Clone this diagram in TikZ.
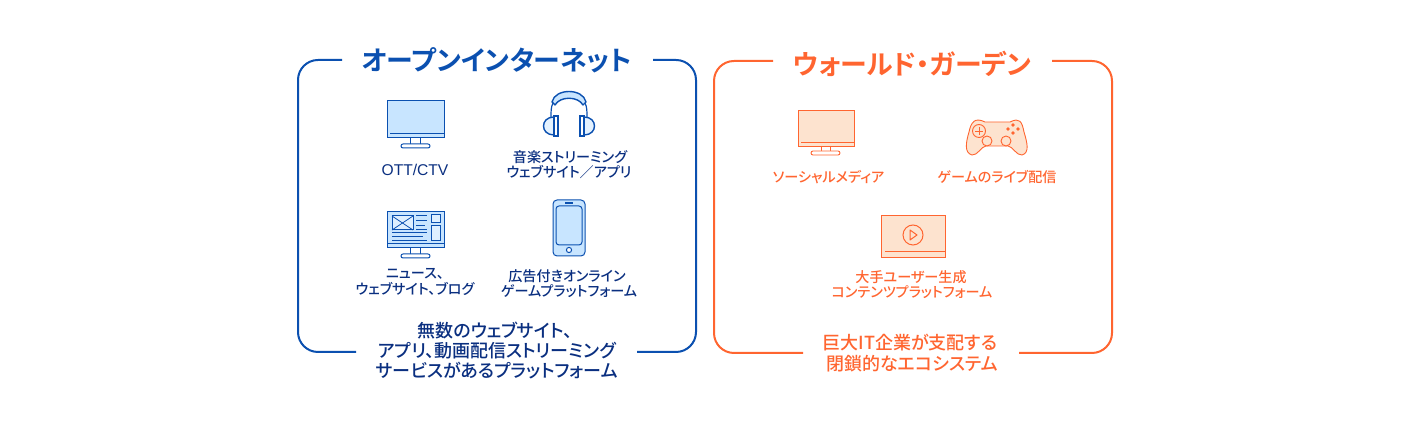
\documentclass[tikz,border=0pt]{standalone}
\usepackage{fontspec}
\usepackage{xcolor}
\setmainfont{Liberation Sans}
\newfontfamily\cjk[RawFeature={+palt},UprightFont={* Medium},BoldFont={* Bold}]{Noto Sans CJK JP}
\definecolor{bluel}{HTML}{0B50B0}
\definecolor{bluet}{HTML}{0A2F80}
\definecolor{bluef}{HTML}{C8E5FF}
\definecolor{orgl}{HTML}{FF6530}
\definecolor{orgf}{HTML}{FDE3CF}
\tikzset{
    bluelab/.style={text=bluet,font=\cjk\fontsize{7.05}{7.05}\selectfont,inner sep=0pt},
    bluecap/.style={text=bluet,font=\cjk\fontsize{9}{9}\selectfont,inner sep=0pt},
    orglab/.style={text=orgl,font=\cjk\fontsize{7.05}{7.05}\selectfont,inner sep=0pt},
    orgcap/.style={text=orgl,font=\cjk\fontsize{9}{9}\selectfont,inner sep=0pt},
    blueicon/.style={draw=bluel,fill=bluef,line width=0.5pt},
    orgicon/.style={draw=orgl,fill=orgf,line width=0.45pt},
}
\begin{document}
\begin{tikzpicture}[x=0.5pt,y=-0.5pt]
        \useasboundingbox (0,0) rectangle (1410,421);
        \draw [bluel,line width=1pt,rounded corners=10pt] (342,60)--(298,60)--(298,352)--(356,352);
        \draw [bluel,line width=1pt,rounded corners=10pt] (637,352)--(696,352)--(696,60)--(653,60);
        \node [text=bluel,inner sep=0pt,font=\cjk\bfseries\fontsize{13.45}{13.45}\selectfont] (titleopen) at(497,60) {オープンインターネット};
        \draw [orgl,line width=1pt,rounded corners=10pt] (773,61)--(714,61)--(714,353)--(803,353);
        \draw [orgl,line width=1pt,rounded corners=10pt] (1019,353)--(1112,353)--(1112,61)--(1052,61);
        \node [text=orgl,inner sep=0pt,font=\cjk\bfseries\fontsize{13.45}{13.45}\selectfont] (titlewall) at(912,64) {ウォールド・ガーデン};

        \draw [blueicon] (387,101) rectangle (444,138);
        \draw [bluel,line width=0.5pt] (390,134)--(444,134);
        \draw [bluel,line width=0.5pt] (410,138)--(410,144) (420,138)--(420,144);
        \draw [blueicon,fill=white,rounded corners=1pt] (401,144) rectangle (430,148);
        \node [bluelab,font=\fontsize{7.8}{7.8}\selectfont] (ott) at(415,170) {OTT/CTV};

        \draw [bluel,line width=0.6pt] (551,117) .. controls (551,111) and (551,107) .. (553,103);
        \draw [bluel,line width=0.6pt] (587,117) .. controls (587,111) and (587,107) .. (585,103);
        \draw [blueicon,line width=0.7pt,line join=round] (552,102) .. controls (555,88) and (583,88) .. (586,102) -- (583,105) .. controls (578,96) and (560,96) .. (555,105) -- cycle;
        \draw [blueicon,line width=0.7pt,fill=white!50!bluef] (554,117) .. controls (540,117) and (540,135) .. (554,135) -- cycle;
        \draw [blueicon,line width=0.7pt,fill=white] (554,116) rectangle (558,136);
        \draw [blueicon,line width=0.7pt,fill=white!50!bluef] (584,117) .. controls (598,117) and (598,135) .. (584,135) -- cycle;
        \draw [blueicon,line width=0.7pt,fill=white] (580,116) rectangle (584,136);
        \node [bluelab] (music) at(570,157) {音楽ストリーミング};
        \node [bluelab] (musicb) at(569,172) {ウェブサイト／アプリ};

        \draw [blueicon] (387,212) rectangle (444,248);
        \draw [bluel,line width=0.5pt] (387,244)--(444,244);
        \draw [bluel,line width=0.5pt,fill=white!40!bluef] (392,216) rectangle (413,230);
        \draw [bluel,line width=0.4pt] (392,216)--(413,230) (392,230)--(413,216);
        \draw [bluel,line width=0.5pt] (416,216)--(427,216) (416,221)--(427,221) (416,226)--(425,226) (416,230)--(427,230);
        \draw [bluel,line width=0.5pt] (392,233)--(427,233) (392,237)--(423,237) (392,241)--(427,241);
        \draw [bluel,line width=0.5pt,fill=white!40!bluef] (431,215) rectangle (440,223);
        \draw [bluel,line width=0.5pt,fill=white!40!bluef] (431,226) rectangle (440,241);
        \draw [bluel,line width=0.5pt] (410,248)--(410,254) (420,248)--(420,254);
        \draw [blueicon,fill=white,rounded corners=1pt] (401,254) rectangle (430,258);
        \node [bluelab] (news) at(415,274) {ニュース、};
        \node [bluelab] (newsb) at(415,289) {ウェブサイト、ブログ};

        \draw [blueicon,rounded corners=2pt] (553,200) rectangle (585,256);
        \draw [blueicon,fill=bluef,rounded corners=1.5pt] (556,206) rectangle (582,245);
        \draw [bluel,line width=0.6pt] (565,203)--(573,203);
        \draw [blueicon,fill=white] (569,250) circle (2.6);
        \node [bluelab] (game) at(567,276) {広告付きオンライン};
        \node [bluelab] (gameb) at(569,291) {ゲームプラットフォーム};

        \node [bluecap] (capa) at(495,331) {無数のウェブサイト、};
        \node [bluecap] (capb) at(497,351) {アプリ、動画配信ストリーミング};
        \node [bluecap] (capc) at(497,371) {サービスがあるプラットフォーム};

        \draw [orgicon] (798,110) rectangle (854,146);
        \draw [orgl,line width=0.45pt] (801,142)--(854,142);
        \draw [orgl,line width=0.45pt] (821,146)--(821,151) (830,146)--(830,151);
        \draw [orgicon,fill=white,rounded corners=1pt] (811,151) rectangle (840,155);
        \node [orglab] (social) at(828.5,177) {ソーシャルメディア};

        \draw [orgicon] (985,122) -- (1010,122) .. controls (1020,117) and (1022,122) .. (1024,132) .. controls (1027,142) and (1030,153) .. (1022,155) .. controls (1017,156) and (1012,146) .. (1008,146) -- (986,146) .. controls (982,146) and (977,156) .. (972,155) .. controls (964,153) and (966,142) .. (969,132) .. controls (971,122) and (975,117) .. (985,122) -- cycle;
        \draw [orgicon] (979,131) circle (6.5);
        \draw [orgl,line width=0.4pt] (975,131)--(983,131) (979,127)--(979,135);
        \draw [orgicon] (987,141) circle (5);
        \draw [orgicon] (1006,141) circle (5);
        \fill [orgl] (1013,125) circle (1.8) (1013,133) circle (1.8) (1008,129) circle (1.8) (1018,129) circle (1.8);
        \node [orglab] (live) at(997,177) {ゲームのライブ配信};

        \draw [orgicon,line width=0.5pt] (881,216) rectangle (945,258);
        \draw [orgl,line width=0.5pt] (885,252)--(945,252);
        \draw [orgl,line width=0.5pt] (913,235) circle (10);
        \draw [orgl,line width=0.5pt,line join=round] (910,230)--(917,235)--(910,240)--cycle;
        \node [orglab] (ugc) at(911,277) {大手ユーザー生成};
        \node [orglab] (ugcb) at(912,292) {コンテンツプラットフォーム};

        \node [orgcap] (capd) at(910,343) {巨大IT企業が支配する};
        \node [orgcap] (cape) at(912,364) {閉鎖的なエコシステム};
    \end{tikzpicture}
\end{document}
